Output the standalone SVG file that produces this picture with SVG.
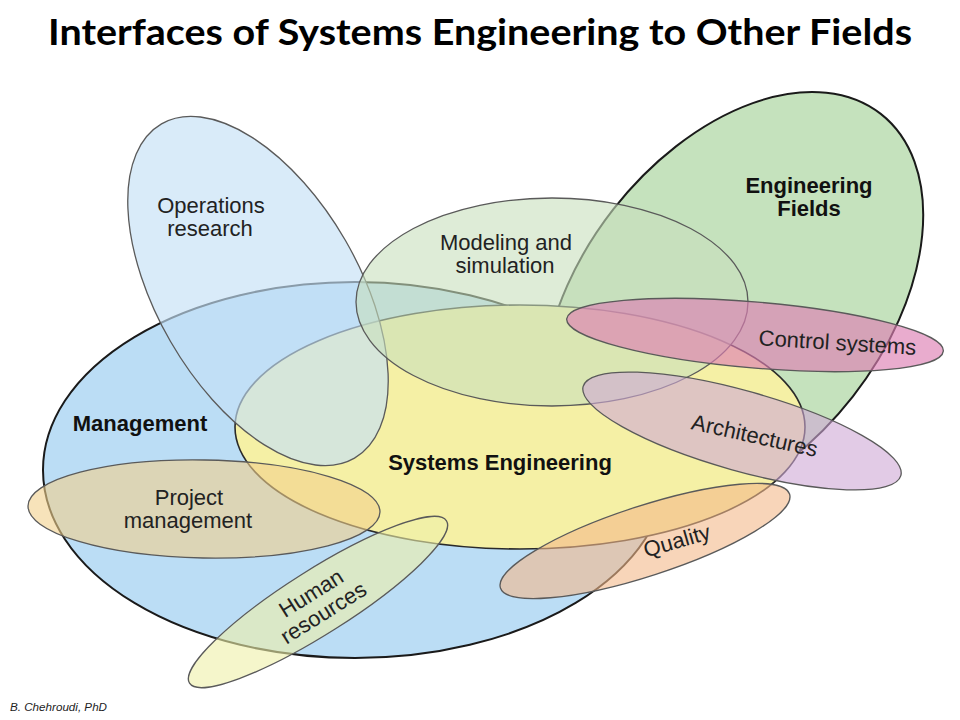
<svg xmlns="http://www.w3.org/2000/svg" width="960" height="720" viewBox="0 0 960 720">
<style>
.major{stroke:#1a1a1a;stroke-width:2}
.minor{stroke:#5a5a5a;stroke-width:1.3}
.lbl{font-family:"Liberation Sans",Arial,Helvetica,sans-serif;font-size:22px;fill:#222;text-anchor:middle}
.bold{font-weight:bold;fill:#111}
</style>
<rect width="960" height="720" fill="#ffffff"/>
<text x="480" y="45" font-family="Lato,'Open Sans',sans-serif" font-weight="bold" font-size="37" fill="#000" text-anchor="middle" textLength="864" lengthAdjust="spacingAndGlyphs">Interfaces of Systems Engineering to Other Fields</text>

<g id="management">
<ellipse class="major" cx="355" cy="470" rx="312" ry="188" fill="#bbddf5"/>
</g>
<g id="engineering-fields">
<ellipse class="major" cx="733" cy="303" rx="240" ry="152" transform="rotate(-52 733 303)" fill="#c5e2bd"/>
</g>
<g id="systems-engineering">
<ellipse cx="520" cy="427" rx="285" ry="122" fill="#f5f0a5" stroke="#2a2a2a" stroke-width="1.6"/>
</g>
<g id="operations-research">
<ellipse class="minor" cx="258" cy="291" rx="193" ry="101" transform="rotate(60 258 291)" fill="#c4e0f6" fill-opacity="0.65"/>
</g>
<g id="modeling-simulation">
<ellipse class="minor" cx="552" cy="302" rx="196" ry="104" fill="#c8e0bd" fill-opacity="0.6"/>
</g>
<g id="control-systems">
<ellipse class="minor" cx="755" cy="335" rx="189" ry="33" transform="rotate(4.9 755 335)" fill="#dd7fb3" fill-opacity="0.65"/>
</g>
<g id="architectures">
<ellipse class="minor" cx="742" cy="431" rx="165" ry="40" transform="rotate(15.7 742 431)" fill="#cfa8d6" fill-opacity="0.6"/>
</g>
<g id="quality">
<ellipse class="minor" cx="645" cy="541" rx="152" ry="35" transform="rotate(-18 645 541)" fill="#f4b98a" fill-opacity="0.6"/>
</g>
<g id="project-management">
<ellipse class="minor" cx="204" cy="509" rx="176" ry="49" transform="rotate(1 204 509)" fill="#f2d08c" fill-opacity="0.6"/>
</g>
<g id="human-resources">
<ellipse class="minor" cx="318" cy="602" rx="152" ry="32" transform="rotate(-32.3 318 602)" fill="#eef0a8" fill-opacity="0.6"/>
</g>

<g id="labels">
<text class="lbl" x="211" y="213">Operations</text>
<text class="lbl" x="210" y="236">research</text>
<text class="lbl" x="506" y="250">Modeling and</text>
<text class="lbl" x="505" y="273">simulation</text>
<text class="lbl bold" x="809" y="193">Engineering</text>
<text class="lbl bold" x="809" y="216">Fields</text>
<text class="lbl bold" x="140" y="431">Management</text>
<text class="lbl bold" x="500" y="470">Systems Engineering</text>
<text class="lbl" transform="translate(837,350) rotate(3.5)" x="0" y="0">Control systems</text>
<text class="lbl" transform="translate(753,443) rotate(12.6)" x="0" y="0">Architectures</text>
<text class="lbl" transform="translate(679,548) rotate(-16)" x="0" y="0">Quality</text>
<text class="lbl" x="189" y="505">Project</text>
<text class="lbl" x="188" y="528">management</text>
<text class="lbl" transform="translate(317,602.5) rotate(-32)"><tspan x="0" y="-3.5">Human</tspan><tspan x="0" y="19.5">resources</tspan></text>
</g>
<text x="10" y="711" font-family="'Liberation Sans',Arial,sans-serif" font-style="italic" font-size="11" fill="#222" textLength="97" lengthAdjust="spacingAndGlyphs">B. Chehroudi, PhD</text>
</svg>
